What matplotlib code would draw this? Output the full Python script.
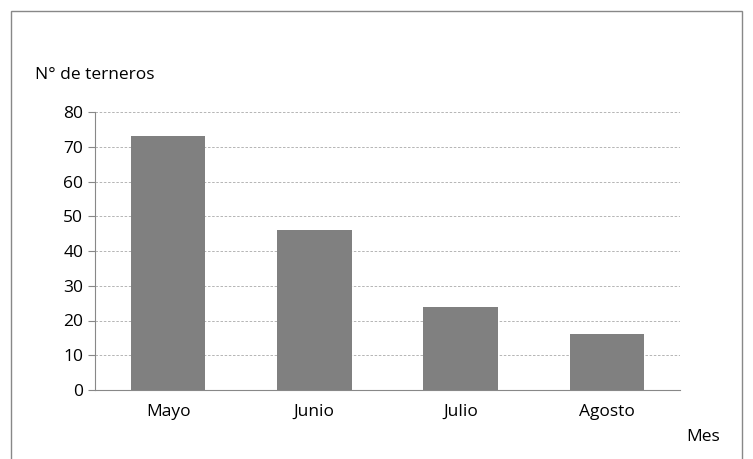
import matplotlib.pyplot as plt
from matplotlib.patches import Rectangle

meses = ["Mayo", "Junio", "Julio", "Agosto"]
terneros = [73, 46, 24, 16]

plt.rcParams['font.family'] = ['Open Sans', 'DejaVu Sans']
W, H = 753, 459
fig = plt.figure(figsize=(W / 100, H / 100), dpi=100)
ax = fig.add_axes([95 / W, 1 - 390 / H, 585 / W, 278 / H])

x = range(len(meses))
ax.bar(x, terneros, width=0.51, color='#808080', zorder=3)
ax.set_xlim(-0.5, 3.5)
ax.set_ylim(0, 80)
ax.set_yticks(range(0, 81, 10))
ax.set_xticks(list(x))
ax.set_xticklabels(meses, fontsize=12.5)
ax.tick_params(axis='y', labelsize=12.5, length=5, color='#888888')
ax.tick_params(axis='x', length=0, pad=10)
ax.grid(axis='y', color='#aaaaaa', linestyle=(0, (3, 2)), linewidth=0.6, zorder=0)
for s in ['top', 'right']:
    ax.spines[s].set_visible(False)
ax.spines['left'].set_color('#888888')
ax.spines['bottom'].set_color('#888888')

fig.text(35 / W, 1 - 75 / H, "N° de terneros", fontsize=12.5, va='center')
fig.text(686 / W, 1 - 437 / H, "Mes", fontsize=12.5, va='center')

fig.patches.append(Rectangle((11 / W, -0.1), 731 / W, 1.1 - 11 / H,
                             transform=fig.transFigure, fill=False,
                             edgecolor='#888888', linewidth=1))

fig.savefig("out.png", dpi=100)
